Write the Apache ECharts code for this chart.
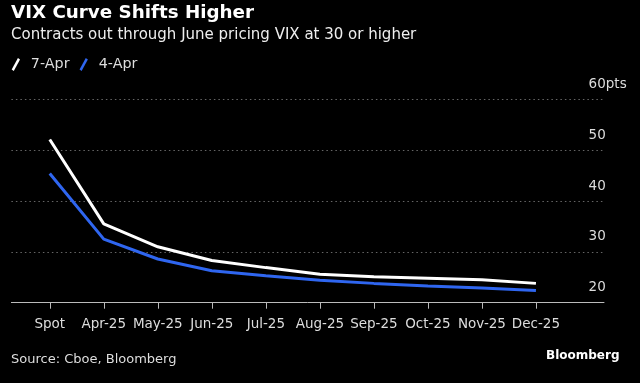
<!DOCTYPE html>
<html>
<head>
<meta charset="utf-8">
<script src="https://cdn.jsdelivr.net/npm/echarts@6/dist/echarts.min.js"></script>
<style>
html,body{margin:0;padding:0;background:#000;}
#c{width:640px;height:383px;}
</style>
</head>
<body>
<div id="c"></div>
<script>
var categories = ['Spot','Apr-25','May-25','Jun-25','Jul-25','Aug-25','Sep-25','Oct-25','Nov-25','Dec-25'];
var apr7 = [52.1, 35.5, 31.0, 28.3, 26.9, 25.6, 25.1, 24.8, 24.5, 23.8];
var apr4 = [45.4, 32.5, 28.6, 26.3, 25.3, 24.4, 23.8, 23.3, 22.9, 22.4];
var yTicks = [20, 30, 40, 50, 60];
var seriesNames = ['7-Apr', '4-Apr'];

function pairs(arr){ return arr.map(function(v,i){ return [i, v]; }); }
var idx = categories.map(function(c,i){ return i; });
var FONT = 'DejaVu Sans';
var icon = 'path://M0,11 L6,0 L8,1.5 L2,12.5 Z';

var chart = echarts.init(document.getElementById('c'), null, {renderer:'canvas'});
chart.setOption({
  backgroundColor: '#000',
  animation: false,
  title: [
    {text: 'VIX Curve Shifts Higher', left: 11, top: 4.5, padding: 0,
     textStyle: {color:'#fff', fontFamily: FONT, fontWeight:'bold', fontSize: 18.3}},
    {text: 'Contracts out through June pricing VIX at 30 or higher', left: 11, top: 28, padding: 0,
     textStyle: {color:'#eee', fontFamily: FONT, fontWeight:'normal', fontSize: 15}},
    {text: 'Source: Cboe, Bloomberg', left: 11, top: 353, padding: 0,
     textStyle: {color:'#ddd', fontFamily: FONT, fontWeight:'normal', fontSize: 13}},
    {text: 'Bloomberg', left: 546, top: 349.5, padding: 0,
     textStyle: {color:'#fff', fontFamily: FONT, fontWeight:'bold', fontSize: 12}}
  ],
  legend: {
    left: 11.7, top: 57.5, padding: 0, itemWidth: 20, itemHeight: 13, itemGap: 10,
    icon: icon,
    data: [
      {name: seriesNames[0], itemStyle:{color:'#fff'}},
      {name: seriesNames[1], itemStyle:{color:'#2f66f0'}}
    ],
    textStyle: {color:'#ddd', fontFamily: FONT, fontSize: 14.3}
  },
  grid: {left: 11.4, right: 36, top: 99.3, bottom: 80.3, containLabel: false},
  xAxis: {
    type: 'value', min: -0.71, max: 10.26,
    axisLine: {show: true, onZero: false, lineStyle: {color:'#bbb', width: 1}},
    axisTick: {show: true, customValues: idx, length: 6, lineStyle:{color:'#bbb'}},
    axisLabel: {customValues: idx, color:'#ddd', fontFamily: FONT, fontSize: 13.5, margin: 15,
      formatter: function(v){ return categories[Math.round(v)] || ''; }},
    splitLine: {show: false}
  },
  yAxis: {
    type: 'value', position: 'right', min: 20, max: 60, interval: 10,
    axisLine: {show: false}, axisTick: {show: false},
    axisLabel: {
      color:'#ddd', fontFamily: FONT, fontSize: 13.5, align:'left', margin: -15.4,
      verticalAlign: 'bottom', lineHeight: 14, padding: [0,0,8,0],
      formatter: function(v){ return v === yTicks[yTicks.length-1] ? v + 'pts' : String(v); }
    },
    splitLine: {show: true, lineStyle: {color:'#666', type:[1.5,3], width: 1}}
  },
  series: [
    {name: seriesNames[0], type:'line', data: pairs(apr7), symbol:'none', z: 3,
     lineStyle:{color:'#fff', width: 3}, itemStyle:{color:'#fff'}},
    {name: seriesNames[1], type:'line', data: pairs(apr4), symbol:'none', z: 2,
     lineStyle:{color:'#2f66f0', width: 3}, itemStyle:{color:'#2f66f0'}}
  ]
});
</script>
</body>
</html>
